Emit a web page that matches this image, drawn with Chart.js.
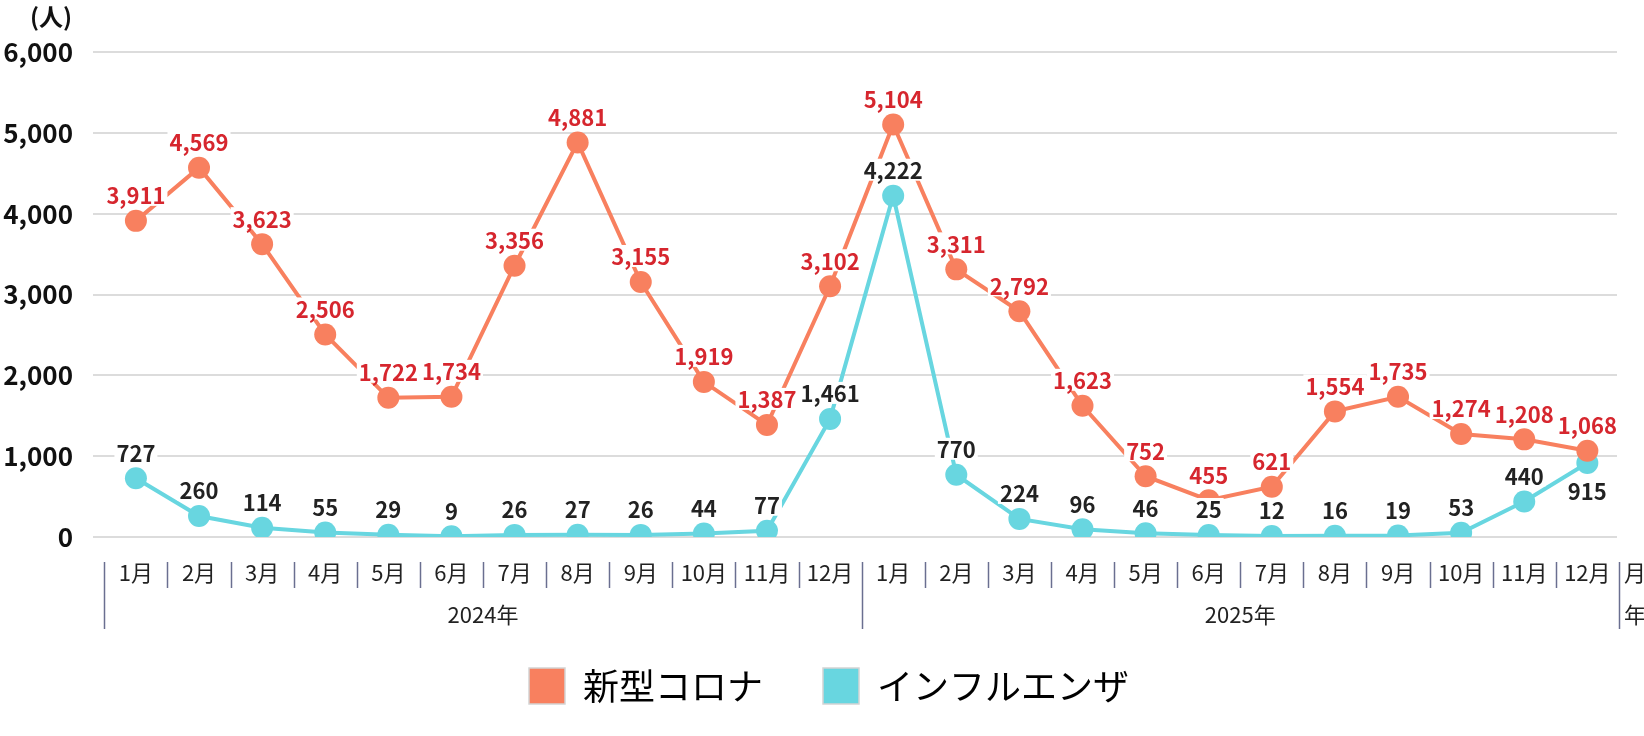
<!DOCTYPE html>
<html lang="ja">
<head>
<meta charset="utf-8">
<title>新型コロナ・インフルエンザ 患者数の推移</title>
<script src="https://cdn.jsdelivr.net/npm/chart.js@4.4.1/dist/chart.umd.min.js"></script>
<style>
  html, body { margin: 0; padding: 0; background: #fff; }
  #wrap { width: 1644px; height: 736px; }
</style>
</head>
<body>
<div id="wrap"><canvas id="lineChart" width="1644" height="736"></canvas></div>
<script>
const months = [
    "1月", "2月", "3月", "4月", "5月", "6月", "7月", "8月", "9月", "10月", "11月", "12月",
    "1月", "2月", "3月", "4月", "5月", "6月", "7月", "8月", "9月", "10月", "11月", "12月"
];
const years = ["2024年", "2025年"];
const corona = [3911, 4569, 3623, 2506, 1722, 1734, 3356, 4881, 3155, 1919, 1387, 3102,
                5104, 3311, 2792, 1623, 752, 455, 621, 1554, 1735, 1274, 1208, 1068];
const influenza = [727, 260, 114, 55, 29, 9, 26, 27, 26, 44, 77, 1461,
                   4222, 770, 224, 96, 46, 25, 12, 16, 19, 53, 440, 915];
const yTicks = [0, 1000, 2000, 3000, 4000, 5000, 6000];

const FONT = "'Noto Sans CJK JP', 'Noto Sans', sans-serif";
const labelColors = ["#d6262e", "#222222"];

Chart.defaults.font.family = FONT;

// 軸の区切り線・年ラベル・単位・データラベル
const chartDecor = {
    id: "chartDecor",
    afterLayout(chart) {
        // 凡例は少し右寄せで全幅に
        chart.legend.left = 14;
        chart.legend.right = chart.width;
        chart.legend.width = chart.width - chart.legend.left;
    },
    afterDatasetsDraw(chart) {
        const ctx = chart.ctx;
        ctx.save();
        ctx.font = "bold 22px " + FONT;
        ctx.textAlign = "center";
        ctx.textBaseline = "middle";
        chart.data.datasets.forEach((ds, di) => {
            const meta = chart.getDatasetMeta(di);
            meta.data.forEach((pt, i) => {
                const text = ds.data[i].y.toLocaleString("en-US");
                let y = pt.y - 26;
                if (di === 1) {
                    const other = chart.getDatasetMeta(0).data[i];
                    if (pt.y - other.y < 30) y = pt.y + 28; // 重なる時は下に
                }
                const w = ctx.measureText(text).width;
                ctx.fillStyle = "#fff";
                ctx.fillRect(pt.x - w / 2 - 2, y - 11, w + 4, 22);
                ctx.fillStyle = labelColors[di];
                ctx.fillText(text, pt.x, y + 1);
            });
        });
        ctx.restore();
    },
    afterDraw(chart) {
        const ctx = chart.ctx;
        const xs = chart.scales.x;
        const top = chart.chartArea.bottom + 25;
        ctx.save();

        ctx.strokeStyle = "#6a6f90";
        ctx.lineWidth = 1.5;
        for (let i = 0; i <= months.length; i++) {
            const x = Math.round(xs.getPixelForValue(i - 0.5)) + 0.5;
            const long = i % 12 === 0;
            ctx.beginPath();
            ctx.moveTo(x, top);
            ctx.lineTo(x, top + (long ? 67 : 26));
            ctx.stroke();
        }

        ctx.fillStyle = "#222";
        ctx.font = "22px " + FONT;
        ctx.textAlign = "center";
        ctx.textBaseline = "middle";
        years.forEach((yr, g) => {
            const x = (xs.getPixelForValue(g * 12) + xs.getPixelForValue(g * 12 + 11)) / 2;
            ctx.fillText(yr, x, top + 53);
        });

        ctx.textAlign = "left";
        const rx = xs.getPixelForValue(months.length - 0.5) + 5;
        ctx.fillText("月", rx, top + 11);
        ctx.fillText("年", rx, top + 53);

        ctx.fillStyle = "#111";
        ctx.font = "bold 24px " + FONT;
        ctx.fillText("(人)", 30, 17);
        ctx.restore();
    }
};

const lineChart = document.getElementById("lineChart");

new Chart(lineChart, {
    type: "line",
    data: {
        datasets: [
            {
                label: "新型コロナ",
                data: corona.map((v, i) => ({ x: i, y: v })),
                borderColor: "#f8805f",
                backgroundColor: "#f8805f",
                borderWidth: 4,
                pointRadius: 11,
                pointBorderWidth: 0,
                pointBackgroundColor: "#f8805f",
                tension: 0
            },
            {
                label: "インフルエンザ",
                data: influenza.map((v, i) => ({ x: i, y: v })),
                borderColor: "#68d6e0",
                backgroundColor: "#68d6e0",
                borderWidth: 4,
                pointRadius: 11,
                pointBorderWidth: 0,
                pointBackgroundColor: "#68d6e0",
                tension: 0
            }
        ]
    },
    options: {
        responsive: false,
        animation: false,
        devicePixelRatio: 1,
        layout: {
            padding: { top: 52, right: 27, bottom: 22, left: 0 }
        },
        plugins: {
            legend: {
                position: "bottom",
                labels: {
                    boxWidth: 36,
                    boxHeight: 36,
                    padding: 60,
                    color: "#111",
                    font: { size: 36 },
                    generateLabels(chart) {
                        return chart.data.datasets.map((ds, i) => ({
                            text: ds.label,
                            fillStyle: ds.borderColor,
                            strokeStyle: "#d4d4d4",
                            lineWidth: 1.5,
                            datasetIndex: i,
                            hidden: false
                        }));
                    }
                }
            },
            tooltip: { enabled: false }
        },
        scales: {
            x: {
                type: "linear",
                min: -0.68,
                max: 23.47,
                afterFit(scale) { scale.height = 71; },
                grid: { display: false, drawTicks: false },
                border: { display: false },
                ticks: {
                    stepSize: 1,
                    includeBounds: false,
                    autoSkip: false,
                    maxRotation: 0,
                    padding: 22,
                    color: "#222",
                    font: { size: 22 },
                    callback: (v) => months[v]
                }
            },
            y: {
                min: yTicks[0],
                max: yTicks[yTicks.length - 1],
                afterFit(scale) { scale.width = 93; },
                grid: { color: "#dcdcdc", lineWidth: 2, drawTicks: false },
                border: { display: false },
                ticks: {
                    stepSize: yTicks[1] - yTicks[0],
                    padding: 20,
                    color: "#111",
                    font: { size: 26, weight: "bold" },
                    callback: (v) => v.toLocaleString("en-US")
                }
            }
        }
    },
    plugins: [chartDecor]
});
</script>
</body>
</html>
